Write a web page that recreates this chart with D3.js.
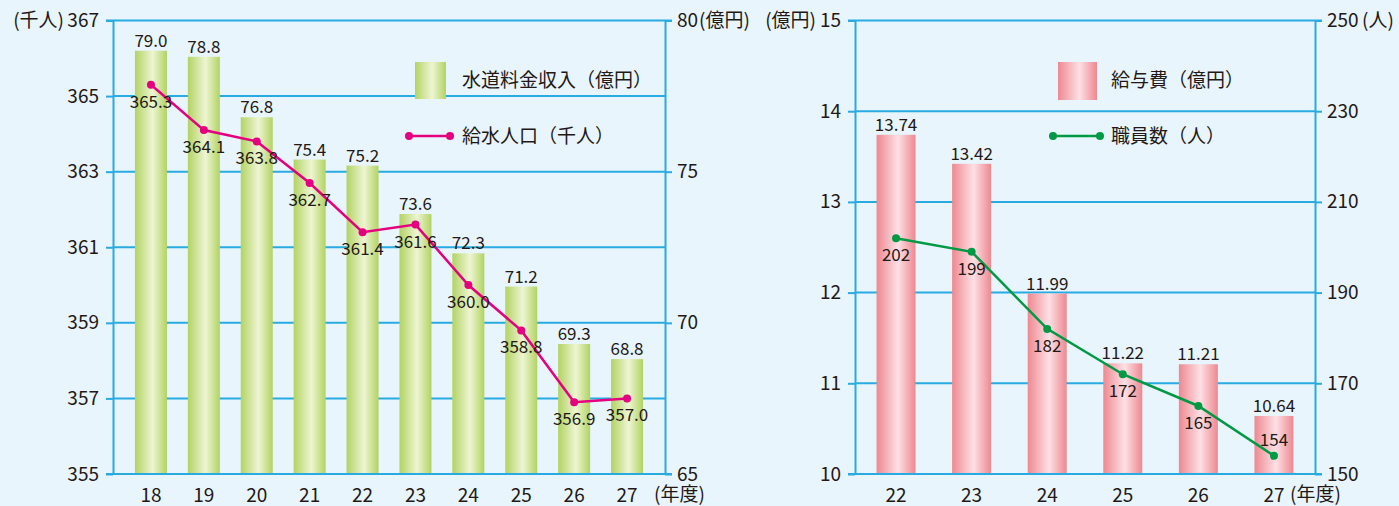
<!DOCTYPE html>
<html><head><meta charset="utf-8">
<script src="https://cdn.jsdelivr.net/npm/d3@7"></script>
<style>
body{margin:0;background:#e8f5fd;}
svg{display:block;}
text{font-family:"Noto Sans CJK JP","Noto Sans",sans-serif;fill:#231815;}
</style>
</head><body>
<svg id="c" width="1399" height="506"></svg>
<script>
// ---- data: left chart ----
const years1 = ["18","19","20","21","22","23","24","25","26","27"];
const revenue = [79.0,78.8,76.8,75.4,75.2,73.6,72.3,71.2,69.3,68.8];      // 水道料金収入（億円）
const population = [365.3,364.1,363.8,362.7,361.4,361.6,360.0,358.8,356.9,357.0]; // 給水人口（千人）
const popTicks = [355,357,359,361,363,365,367];
const revTicks = [65,70,75,80];
// ---- data: right chart ----
const years2 = ["22","23","24","25","26","27"];
const salary = [13.74,13.42,11.99,11.22,11.21,10.64];   // 給与費（億円）
const staff = [202,199,182,172,165,154];                // 職員数（人）
const salTicks = [10,11,12,13,14,15];
const staffTicks = [150,170,190,210,230,250];

const svg = d3.select("#c");
const AX = "#29abe2";
const TOP = 20.5, BOT = 474;

const defs = svg.append("defs");
function grad(id, edge, mid){
  const g = defs.append("linearGradient").attr("id", id).attr("x1","0%").attr("x2","100%").attr("y1","0%").attr("y2","0%");
  g.append("stop").attr("offset","0%").attr("stop-color", edge);
  g.append("stop").attr("offset","55%").attr("stop-color", mid);
  g.append("stop").attr("offset","100%").attr("stop-color", edge);
}
grad("gGreen", "#b2d362", "#eef5d3");
grad("gPink", "#ee8890", "#fde0e5");

function styleAxis(g){
  g.select(".domain").attr("stroke", AX).attr("stroke-width", 2);
  g.selectAll(".tick line").attr("stroke", AX).attr("stroke-width", 2);
  g.selectAll(".tick text").style("font-size","19px").attr("fill","#231815");
}

function drawChart(opt){
  const {x0, x1, cats, bars, line, lTicks, rTicks, lDom, rDom, gradId, lineColor,
         barFmt, lineFmt, po, pi, lastAbove} = opt;
  const x = d3.scaleBand().domain(cats).range([x0, x1]).paddingInner(pi).paddingOuter(po);
  const yL = d3.scaleLinear().domain(lDom).range([BOT, TOP]);
  const yR = d3.scaleLinear().domain(rDom).range([BOT, TOP]);
  const lineOnLeft = opt.lineOnLeft;
  const yBar = lineOnLeft ? yR : yL;
  const yLine = lineOnLeft ? yL : yR;

  // grid
  svg.append("g").selectAll("line").data(lTicks.slice(1, -1)).join("line")
    .attr("x1", x0).attr("x2", x1).attr("y1", d => yL(d)).attr("y2", d => yL(d))
    .attr("stroke", AX).attr("stroke-width", 2);

  // bars
  svg.append("g").selectAll("rect").data(bars).join("rect")
    .attr("x", (d,i) => x(cats[i])).attr("width", x.bandwidth())
    .attr("y", d => yBar(d)).attr("height", d => BOT - yBar(d))
    .attr("fill", `url(#${gradId})`);

  // axes
  const gl = svg.append("g").attr("transform", `translate(${x0},0)`)
    .call(d3.axisLeft(yL).tickValues(lTicks).tickFormat(d3.format("d")).tickSize(7).tickPadding(7).tickSizeOuter(0));
  styleAxis(gl);
  const gr = svg.append("g").attr("transform", `translate(${x1},0)`)
    .call(d3.axisRight(yR).tickValues(rTicks).tickFormat(d3.format("d")).tickSize(7).tickPadding(5).tickSizeOuter(0));
  styleAxis(gr);
  const gb = svg.append("g").attr("transform", `translate(0,${BOT})`)
    .call(d3.axisBottom(x).tickSize(0).tickPadding(15).tickSizeOuter(0));
  styleAxis(gb);
  gb.select(".domain").attr("d", `M${x0-7},0H${x1+7}`);
  gb.selectAll(".tick text").attr("dy","0.71em");
  // top border
  svg.append("line").attr("x1", x0-7).attr("x2", x1+7).attr("y1", TOP).attr("y2", TOP)
    .attr("stroke", AX).attr("stroke-width", 2);

  // bar labels
  svg.append("g").selectAll("text").data(bars).join("text")
    .attr("x", (d,i) => x(cats[i]) + x.bandwidth()/2).attr("y", d => yBar(d) - 4)
    .attr("text-anchor","middle").style("font-size","17px").text(barFmt);

  // line
  const pts = line.map((d,i) => [x(cats[i]) + x.bandwidth()/2, yLine(d)]);
  svg.append("path").attr("d", d3.line()(pts)).attr("fill","none")
    .attr("stroke", lineColor).attr("stroke-width", 2.5);
  svg.append("g").selectAll("circle").data(pts).join("circle")
    .attr("cx", d => d[0]).attr("cy", d => d[1]).attr("r", 4).attr("fill", lineColor);
  svg.append("g").selectAll("text").data(line).join("text")
    .attr("x", (d,i) => pts[i][0])
    .attr("y", (d,i) => (lastAbove && i === line.length - 1) ? pts[i][1] - 10 : pts[i][1] + 23)
    .attr("text-anchor","middle").style("font-size","17px").text(lineFmt);
  return {x, yL, yR};
}

drawChart({x0:113, x1:665, cats:years1, bars:revenue, line:population,
  lTicks:popTicks, rTicks:revTicks, lDom:[355,367], rDom:[65,80], gradId:"gGreen",
  lineColor:"#e4007f", barFmt:d=>d.toFixed(1), lineFmt:d=>d.toFixed(1),
  pi:0.395, po:0.415, lineOnLeft:true, lastAbove:false});

drawChart({x0:855, x1:1315, cats:years2, bars:salary, line:staff,
  lTicks:salTicks, rTicks:staffTicks, lDom:[10,15], rDom:[150,250], gradId:"gPink",
  lineColor:"#009944", barFmt:d=>d.toFixed(2), lineFmt:d=>String(d),
  pi:0.484, po:0.285, lineOnLeft:false, lastAbove:true});

// unit labels
const unit = (t, x, y, anchor) => svg.append("text").attr("x", x).attr("y", y)
  .attr("text-anchor", anchor || "start").attr("dy","0.32em").style("font-size","19px").text(t);
unit("(千人)", 64, TOP, "end");
unit("(億円)", 699, TOP);
unit("(億円)", 816, TOP, "end");
unit("(人)", 1362, TOP);
svg.append("text").attr("x", 654).attr("y", BOT + 14).attr("dy","0.71em").style("font-size","19px").text("(年度)");
svg.append("text").attr("x", 1290).attr("y", BOT + 14).attr("dy","0.71em").style("font-size","19px").text("(年度)");

// legends
function legend(x, y, color, isBar, w, h){
  if (isBar){
    svg.append("rect").attr("x", x).attr("y", y - h/2).attr("width", w).attr("height", h)
      .attr("fill", color);
  } else {
    svg.append("line").attr("x1", x).attr("x2", x + w).attr("y1", y).attr("y2", y)
      .attr("stroke", color).attr("stroke-width", 2.5);
    [x, x + w].forEach(cx => svg.append("circle").attr("cx", cx).attr("cy", y).attr("r", 4).attr("fill", color));
  }
}
legend(415, 80.5, "url(#gGreen)", true, 31, 37);
legend(409, 136, "#e4007f", false, 41);
legend(1058, 81, "url(#gPink)", true, 39, 38);
legend(1053, 136, "#009944", false, 47);
const lt = (t, x, y) => svg.append("text").attr("x", x).attr("y", y).attr("dy","0.35em").style("font-size","19px").text(t);
lt("水道料金収入（億円）", 462, 80);
lt("給水人口（千人）", 462, 136);
lt("給与費（億円）", 1111, 80);
lt("職員数（人）", 1111, 136);
</script>
</body></html>
